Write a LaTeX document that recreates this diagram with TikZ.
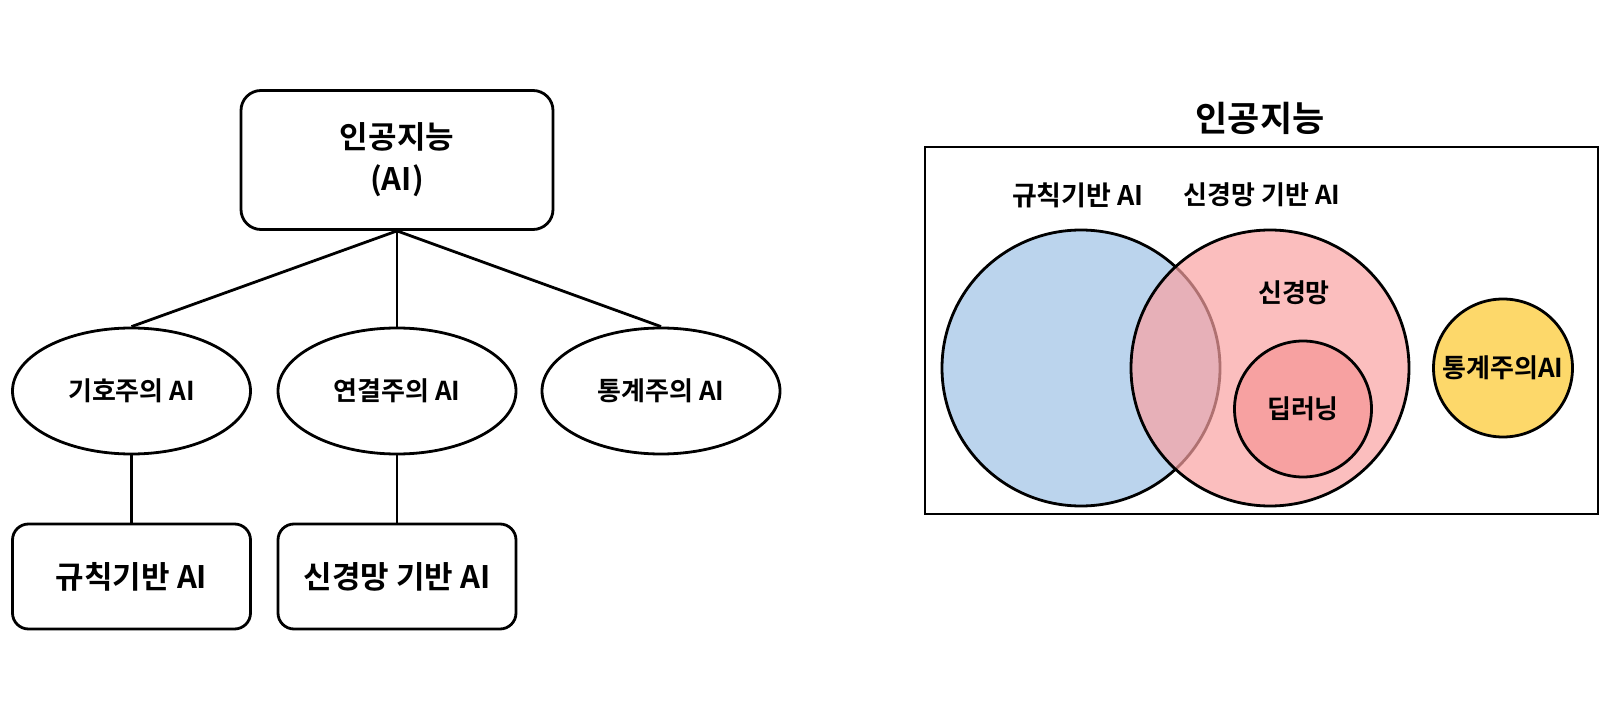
\documentclass[tikz,border=0pt]{standalone}
\usepackage{fontspec}
\setmainfont{Noto Sans CJK KR}[BoldFont={* Bold}]
\usepackage{xcolor}
\usetikzlibrary{positioning,shapes.geometric}
\definecolor{RuleBlue}{RGB}{187,212,237}
\definecolor{NetPink}{RGB}{250,162,162}
\definecolor{DeepRed}{RGB}{247,161,161}
\definecolor{StatYellow}{RGB}{253,216,106}
\newcommand{\fs}[1]{\bfseries\fontsize{#1}{1.2\dimexpr#1pt\relax}\selectfont}

\begin{document}
\begin{tikzpicture}[x=1pt, y=-1pt,
    topbox/.style={draw, line width=2.8pt, rounded corners=20pt, minimum width=312pt, minimum height=139pt, align=center, font=\fs{31}},
    leafbox/.style={draw, line width=2.8pt, rounded corners=16pt, minimum width=238pt, minimum height=105pt, font=\fs{31}},
    branch/.style={draw, ellipse, line width=2.8pt, minimum width=238pt, minimum height=126pt, font=\fs{26}},
    venn/.style={draw, ellipse, line width=2.8pt, inner sep=0pt},
    link/.style={line width=2.8pt}]
  \useasboundingbox (0,0) rectangle (1617,708);
  % tree on the left
  \node[topbox] (ai) at (397,160) {인공지능\\[5pt](AI)};
  \node[branch] (symb) at (131.5,391) {기호주의 AI};
  \node[branch] (conn) at (397,391) {연결주의 AI};
  \node[branch] (stat) at (661,391) {통계주의 AI};
  \node[leafbox] (rule) at (131.5,576.5) {규칙기반 AI};
  \node[leafbox] (neur) at (397,576.5) {신경망 기반 AI};
  \draw[link] (ai.south) -- (symb.north);
  \draw[link] (ai.south) -- (conn.north);
  \draw[link] (ai.south) -- (stat.north);
  \draw[link] (symb.south) -- (rule.north);
  \draw[link] (conn.south) -- (neur.north);
  % venn diagram on the right
  \node[font=\fs{35}] (title) at (1260,118) {인공지능};
  \node[draw, line width=2.8pt, minimum width=673pt, minimum height=367pt] (area) at (1261.5,330.5) {};
  \node[font=\fs{27}] (rulelbl) at (1078,195) {규칙기반 AI};
  \node[font=\fs{26}] (netlbl) at (1262,195) {신경망 기반 AI};
  \node[venn, fill=RuleBlue, minimum width=278pt, minimum height=276pt] (ruleset) at (1081,368) {};
  \node[venn, fill=NetPink, fill opacity=0.7, minimum width=278pt, minimum height=276pt] (netset) at (1270,368) {};
  \node[venn, fill=DeepRed, minimum width=137pt, minimum height=136pt] (deepset) at (1303,409) {};
  \node[venn, fill=StatYellow, minimum width=139pt, minimum height=138pt] (statset) at (1503,368) {};
  \node[font=\fs{26}] (netname) at (1294,293) {신경망};
  \node[font=\fs{26}] (deepname) at (deepset) {딥러닝};
  \node[font=\fs{26}] (statname) at (statset) {통계주의AI};
\end{tikzpicture}
\end{document}
